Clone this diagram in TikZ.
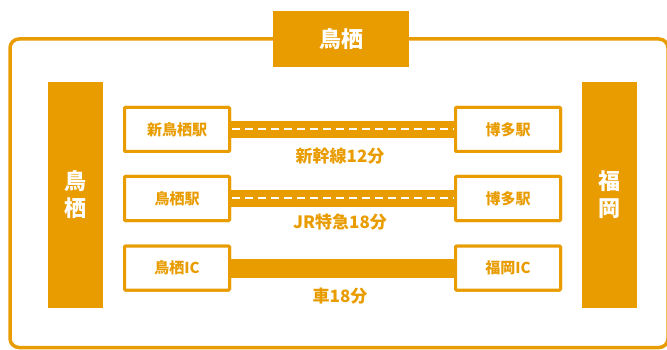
\documentclass[tikz,border=0pt]{standalone}
\usepackage{fontspec}
\setmainfont{Noto Sans CJK JP}
\definecolor{og}{HTML}{E99C00}
\begin{document}
\begin{tikzpicture}[x=1pt,y=-1pt,
  stn/.style={draw=og,line width=3pt,fill=white,minimum width=105pt,minimum height=44pt,inner sep=0pt,text=og,font=\fontsize{15}{15}\selectfont\bfseries,rounded corners=1pt},
  bar/.style={fill=og,inner sep=0pt,text=white,font=\fontsize{22}{26}\selectfont\bfseries},
  lbl/.style={text=og,font=\fontsize{17}{17}\selectfont\bfseries,inner sep=0pt},
  link/.style={draw=og,line width=17pt},
  dsh/.style={draw=white,line width=2pt,dash pattern=on 8pt off 5pt}]
\useasboundingbox (0,0) rectangle (667,350);
\begin{scope}
\clip (0,0) rectangle (667,350);
\draw[og,line width=3.5pt,rounded corners=9pt] (10,39) rectangle (668,347.5);
\end{scope}
\node[bar,minimum width=136pt,minimum height=56pt] (top) at (341,39) {鳥栖};
\node[bar,minimum width=55pt,minimum height=226pt,align=center] (lb) at (75.5,195) {鳥\\[1pt]栖};
\node[bar,minimum width=55pt,minimum height=226pt,align=center] (rb) at (609.5,195) {福\\[1pt]岡};
% stations
\node[stn] (a1) at (177,129.5) {新鳥栖駅};
\node[stn] (b1) at (508,129.5) {博多駅};
\node[stn] (a2) at (177,198.5) {鳥栖駅};
\node[stn] (b2) at (508,198.5) {博多駅};
\node[stn] (a3) at (177,268) {鳥栖IC};
\node[stn] (b3) at (508,268) {福岡IC};
% connectors
\path[link] (a1.east) -- (b1.west);
\path[dsh] ([xshift=1pt]a1.east) -- (b1.west);
\path[link] (a2.east) -- (b2.west);
\path[dsh] ([xshift=1pt]a2.east) -- (b2.west);
\path[link,line width=19pt] (a3.east) -- (b3.west);
% redraw station boxes above connectors
\node[stn] at (a1) {新鳥栖駅};
\node[stn] at (b1) {博多駅};
\node[stn] at (a2) {鳥栖駅};
\node[stn] at (b2) {博多駅};
\node[stn] at (a3) {鳥栖IC};
\node[stn] at (b3) {福岡IC};
\node[lbl] (l1) at (340,156) {新幹線12分};
\node[lbl] (l2) at (340,222) {JR特急18分};
\node[lbl] (l3) at (340,296) {車18分};
\end{tikzpicture}
\end{document}
